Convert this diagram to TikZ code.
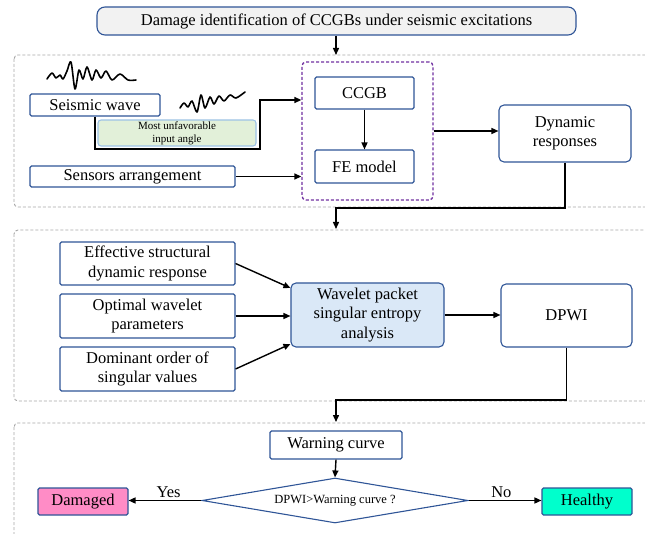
\documentclass[tikz,border=0pt]{standalone}
\usepackage{fontspec}
\setmainfont{Liberation Serif}
\usetikzlibrary{arrows.meta,shapes.geometric}

\definecolor{bordblue}{RGB}{47,85,151}
\definecolor{titlefill}{RGB}{242,242,242}
\definecolor{anglefill}{RGB}{226,240,217}
\definecolor{angleline}{RGB}{157,195,230}
\definecolor{wpsfill}{RGB}{218,232,247}
\definecolor{dampink}{RGB}{255,140,198}
\definecolor{healaqua}{RGB}{0,255,204}
\definecolor{framegray}{RGB}{166,166,166}
\definecolor{grppurple}{RGB}{112,48,160}

\begin{document}
\begin{tikzpicture}[x=1pt, y=-1pt,
	box/.style={draw=bordblue, line width=1.1pt, fill=white, rounded corners=1.5pt,
		inner sep=0pt, align=center, font=\fontsize{16.5}{19.5}\selectfont},
	rbox/.style={box, rounded corners=5pt},
	frame/.style={draw=framegray, line width=0.9pt, dash pattern=on 3pt off 2pt, rounded corners=4pt},
	arr/.style={-{Triangle[length=7pt,width=6pt]}, line width=1.4pt},
	wave/.style={line width=1.6pt, line join=round, line cap=round}]

\useasboundingbox (0,0) rectangle (645,534);
\clip (0,0) rectangle (645,534);

% dashed frames
\draw[frame] (14,55) rectangle (670,207);
\draw[frame] (14,230) rectangle (670,401);
\draw[frame] (14,423) rectangle (670,560);

% title
\node[box, fill=titlefill, rounded corners=8pt, minimum width=479, minimum height=28] (title) at (336.5,21)
	{Damage identification of CCGBs under seismic excitations};
\coordinate (f1) at (336,55);
\draw[arr] (title.south -| f1) -- (f1);

% first part
\draw[wave] plot[smooth, tension=0.5] coordinates {(47,79) (52,73) (56,78) (60,75) (63,79) (67,71) (71,62) (75,89) (79,70) (83,79) (87,67) (92,80) (96,70) (101,78) (106,71) (112,80) (120,74) (128,80) (136,80)};
\draw[wave] plot[smooth, tension=0.5] coordinates {(180,108) (184,103) (188,107) (192,101) (197,112) (201,95) (205,108) (210,97) (214,104) (219,96) (224,101) (230,95) (236,98) (245,92)};

\node[box, minimum width=130, minimum height=22] (seis) at (95,105) {Seismic wave};
\node[box, draw=angleline, fill=anglefill, rounded corners=3pt, minimum width=158, minimum height=26,
	font=\fontsize{11}{13}\selectfont] (angle) at (177,133) {Most unfavorable\\input angle};
\node[box, minimum width=205, minimum height=21] (sens) at (132.5,176.5) {Sensors arrangement};

\node[draw=grppurple, line width=1.3pt, dash pattern=on 3pt off 2pt, rounded corners=4pt,
	minimum width=131, minimum height=138, inner sep=0pt] (grp) at (367.5,131) {};
\node[box, minimum width=99, minimum height=32] (ccgb) at (364.5,93) {CCGB};
\node[box, minimum width=99, minimum height=33] (fem) at (364.5,166.5) {FE model};
\node[rbox, minimum width=132, minimum height=57] (dyn) at (565,133.5) {Dynamic\\responses};

\coordinate (k1) at (260,149);
\coordinate (k2) at (260,100);
\draw[arr] (seis.south) |- (k1) -- (k2) -- (grp.west |- k2);
\draw[arr] (sens.east) -- (grp.west |- sens.east);
\draw[arr] (ccgb.south) -- (fem.north);
\draw[arr] (grp.east) -- (dyn.west |- grp.east);

\coordinate (j1) at (336,208);
\coordinate (f2) at (336,229);
\draw[arr] (dyn.south) |- (j1) -- (f2);

% second part
\node[box, minimum width=175, minimum height=43] (eff) at (147.5,263.5) {Effective structural\\dynamic response};
\node[box, minimum width=175, minimum height=44] (opt) at (147.5,316) {Optimal wavelet\\parameters};
\node[box, minimum width=175, minimum height=44] (dom) at (147.5,369) {Dominant order of\\singular values};
\node[rbox, fill=wpsfill, minimum width=153, minimum height=64] (wps) at (367.5,315) {Wavelet packet\\singular entropy\\analysis};
\node[rbox, minimum width=131, minimum height=63] (dpwi) at (566.5,315.5) {DPWI};

\draw[arr] (eff.east) -- ([yshift=27pt]wps.west);
\draw[arr] (opt.east) -- (wps.west |- opt.east);
\draw[arr] (dom.east) -- ([yshift=-29pt]wps.west);
\draw[arr] (wps.east) -- (dpwi.west |- wps.east);

\coordinate (j2) at (336,400);
\coordinate (f3) at (336,422);
\draw[arr] (dpwi.south) |- (j2) -- (f3);

% third part
\node[box, minimum width=132, minimum height=28] (warn) at (336,445) {Warning curve};
\node[diamond, draw=bordblue, line width=1.1pt, inner sep=0pt, aspect=5.9,
	minimum width=266, minimum height=45, font=\fontsize{12.5}{15}\selectfont] (dec) at (335,500.5) {DPWI>Warning curve ?};
\node[box, fill=dampink, minimum width=90, minimum height=27] (dam) at (83,501.5) {Damaged};
\node[box, fill=healaqua, minimum width=90, minimum height=27] (hea) at (587,501.5) {Healthy};

\draw[arr] (warn.south) -- (dec.north);
\draw[arr] (dec.west) -- (dam.east |- dec.west) node[pos=0.45, above, inner sep=2pt, font=\fontsize{16.5}{19.5}\selectfont] {Yes};
\draw[arr] (dec.east) -- (hea.west |- dec.east) node[pos=0.45, above, inner sep=2pt, font=\fontsize{16.5}{19.5}\selectfont] {No};

\end{tikzpicture}
\end{document}
